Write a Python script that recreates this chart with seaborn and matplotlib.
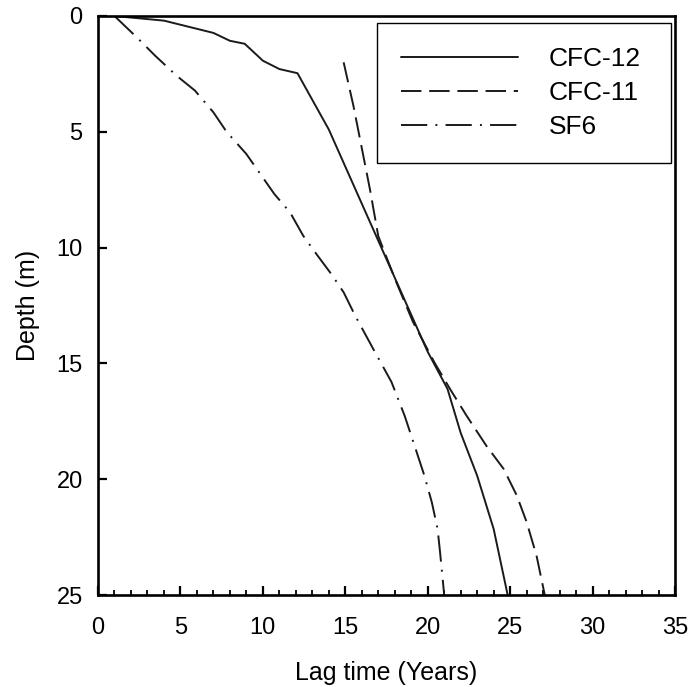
import matplotlib
matplotlib.use("Agg")
import matplotlib.pyplot as plt
from matplotlib.ticker import MultipleLocator
import seaborn as sns
import pandas as pd

# ---- data ----
cfc12_lag = [1.0, 4.0, 7.0, 8.0, 8.9, 10.0, 11.0, 12.1, 14.0, 16.0, 18.0, 20.0, 21.2, 22.0, 23.0, 24.0, 24.85]
cfc12_depth = [0.0, 0.2, 0.73, 1.07, 1.2, 1.93, 2.29, 2.47, 4.9, 8.1, 11.3, 14.5, 16.1, 18.0, 19.85, 22.15, 25.0]

cfc11_lag = [14.9, 15.5, 16.0, 16.5, 17.0, 17.6, 18.1, 19.1, 20.4, 21.35, 22.35, 23.55, 24.6, 25.4, 26.0, 26.6, 27.1]
cfc11_depth = [2.0, 3.9, 5.7, 7.5, 9.5, 10.6, 11.5, 13.2, 14.95, 16.1, 17.25, 18.55, 19.55, 20.7, 21.85, 23.3, 25.0]

sf6_lag = [1.0, 2.35, 3.46, 4.77, 5.88, 7.0, 7.8, 9.0, 10.7, 11.65, 12.45, 13.25, 14.15, 14.9, 15.6, 16.7,
           17.8, 18.6, 19.2, 19.8, 20.25, 20.6, 20.75, 21.0]
sf6_depth = [0.0, 0.92, 1.71, 2.58, 3.22, 4.16, 5.0, 5.96, 7.69, 8.48, 9.49, 10.28, 11.14, 11.93, 12.94, 14.38,
             15.8, 17.26, 18.55, 19.85, 21.0, 22.15, 23.16, 25.0]

series_names = ["CFC-12", "CFC-11", "SF6"]
x_ticks = [0, 5, 10, 15, 20, 25, 30, 35]
y_ticks = [0, 5, 10, 15, 20, 25]
x_label = "Lag time (Years)"
y_label = "Depth (m)"

# ---- styling ----
sns.set_style("ticks")
plt.rcParams["font.family"] = ["Liberation Sans", "DejaVu Sans"]
plt.rcParams["text.color"] = "black"
plt.rcParams["axes.labelcolor"] = "black"
plt.rcParams["xtick.color"] = "black"
plt.rcParams["ytick.color"] = "black"

fig = plt.figure(figsize=(6.89, 6.87), dpi=100)
ax = fig.add_axes([98 / 689, 1 - 595 / 687, 577 / 689, 579 / 687])

line_color = "#1a1a1a"
styles = {
    "CFC-12": "-",
    "CFC-11": (0, (10.5, 4.0)),
    "SF6": (0, (13.5, 4.2, 1.0, 4.2)),
}
data = {
    "CFC-12": (cfc12_lag, cfc12_depth),
    "CFC-11": (cfc11_lag, cfc11_depth),
    "SF6": (sf6_lag, sf6_depth),
}
for name in series_names:
    lag, depth = data[name]
    df = pd.DataFrame({"lag": lag, "depth": depth})
    sns.lineplot(data=df, x="lag", y="depth", sort=False, estimator=None, ax=ax,
                 color=line_color, lw=1.4, linestyle=styles[name], label=name)

ax.set_xlim(0, 35)
ax.set_ylim(25, 0)
ax.set_xticks(x_ticks)
ax.set_yticks(y_ticks)
ax.xaxis.set_minor_locator(MultipleLocator(1))

for sp in ax.spines.values():
    sp.set_linewidth(1.9)
    sp.set_color("black")

ax.tick_params(axis="x", which="major", direction="in", length=6.5, width=1.6, pad=16,
               labelsize=17, top=False)
ax.tick_params(axis="x", which="minor", direction="in", length=3.5, width=1.3, top=False)
ax.tick_params(axis="y", which="major", direction="in", length=6.5, width=1.6, pad=11,
               labelsize=17, right=False)

ax.set_xlabel(x_label, fontsize=18, labelpad=16)
ax.set_ylabel(y_label, fontsize=18, labelpad=12)

leg = ax.legend(loc="upper left", bbox_to_anchor=(0.483, 0.0, 0.5095, 0.9884), mode="expand",
                borderaxespad=0, fontsize=19, handlelength=4.45, handletextpad=1.14,
                labelspacing=0.38, borderpad=0.92, fancybox=False, framealpha=1,
                edgecolor="black")
leg.get_frame().set_linewidth(1.0)

fig.savefig("out.png", dpi=100)
